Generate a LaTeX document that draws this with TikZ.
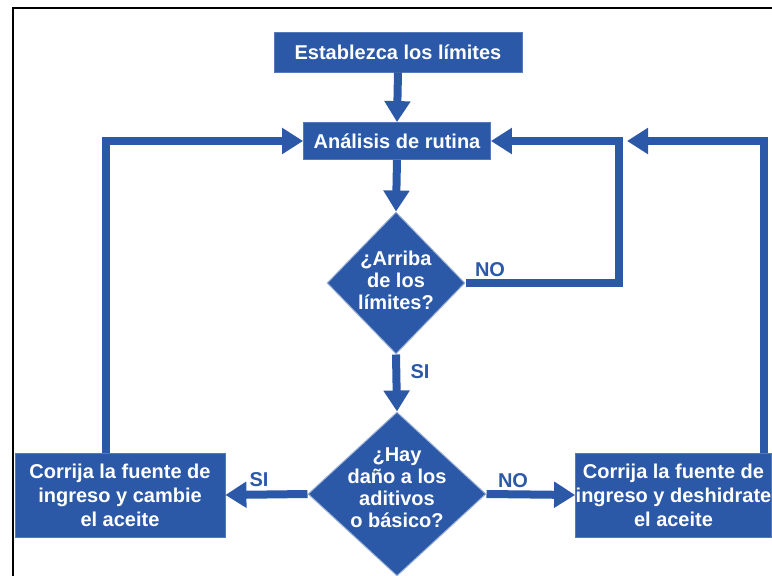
\documentclass[tikz,border=0pt]{standalone}
\usepackage{fontspec}
\setmainfont{Liberation Sans}
\usetikzlibrary{arrows.meta,shapes.geometric}
\definecolor{fblue}{RGB}{43,89,168}
\begin{document}
\begin{tikzpicture}[x=1pt,y=-1pt,
 box/.style={fill=fblue, draw=fblue!80!white, line width=0.8pt, text=white, font=\bfseries\fontsize{20}{24}\selectfont, align=center, inner sep=0pt},
 dia/.style={diamond, fill=fblue, draw=fblue!45!white, line width=1pt, inner sep=0pt},
 txt/.style={text=white, font=\bfseries\fontsize{20}{22}\selectfont, align=center, inner sep=0pt},
 conn/.style={draw=fblue, line width=8pt},
 arr/.style={conn, -{Triangle[width=25pt,length=21pt]}},
 lab/.style={text=fblue, font=\bfseries\fontsize{20}{22}\selectfont, inner sep=0pt}]
\useasboundingbox (0,0) rectangle (772,576);
\clip (0,0) rectangle (772,576);
\draw[line width=2pt] (13,590) -- (13,8) -- (790,8);
% nodes
\node[box, minimum width=248, minimum height=40] (top) at (398,52) {Establezca los límites};
\node[box, minimum width=187, minimum height=37] (ana) at (397,141) {Análisis de rutina};
\node[dia, minimum width=138, minimum height=142] (d1) at (396,283) {};
\node[txt] (d1t) at (396,280) {¿Arriba\\de los\\límites?};
\node[dia, minimum width=178, minimum height=164] (d2) at (397,494) {};
\node[txt] (d2t) at (397,488) {¿Hay\\daño a los\\aditivos\\o básico?};
\node[box, minimum width=210, minimum height=84] (lbox) at (120,495) {Corrija la fuente de\\ingreso y cambie\\el aceite};
\node[box, minimum width=196, minimum height=84] (rbox) at (673.5,495) {Corrija la fuente de\\ingreso y deshidrate\\el aceite};
% helper coordinates
\coordinate (c1) at (619,141);
\coordinate (c2) at (106,141);
\coordinate (c3) at (764,141);
% connectors
\draw[arr] (top.south) -- (ana.north);
\draw[arr] (ana.south) -- (d1.north);
\draw[arr] (d1.south) -- (d2.north);
\draw[arr] (d1.east) -| (c1) -- (ana.east);
\draw[arr] (d2.west) -- (lbox.east);
\draw[arr] (d2.east) -- (rbox.west);
\draw[arr] (c2 |- lbox.north) -- (c2) -- (ana.west);
\draw[arr, shorten >=8pt] (c3 |- rbox.north) -- (c3) -- (c1);
% labels
\node[lab] (no1) at (490,270) {NO};
\node[lab] (si1) at (420,372) {SI};
\node[lab] (si2) at (259,480) {SI};
\node[lab] (no2) at (513,481) {NO};
\end{tikzpicture}
\end{document}
